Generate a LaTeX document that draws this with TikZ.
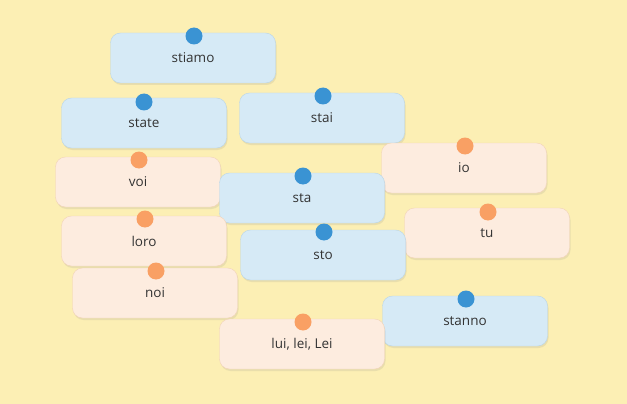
\documentclass[tikz,border=0pt]{standalone}
\usepackage{fontspec}
\setmainfont{Open Sans}
\usetikzlibrary{shadows}
\definecolor{bg}{HTML}{FCEFB4}
\definecolor{bfill}{HTML}{D6EAF6}
\definecolor{bdraw}{HTML}{B9D5E8}
\definecolor{ofill}{HTML}{FDECDF}
\definecolor{odraw}{HTML}{F2D3B8}
\definecolor{bdot}{HTML}{3A93D3}
\definecolor{odot}{HTML}{F9A064}
\definecolor{txt}{HTML}{333333}
\tikzset{
 card/.style={rounded corners=10pt,minimum width=165pt,minimum height=50pt,inner sep=0pt,text=txt,font=\fontsize{13.5pt}{15pt}\selectfont,drop shadow={opacity=0.15,shadow xshift=1pt,shadow yshift=-2pt}},
 blue/.style={card,fill=bfill,draw=bdraw},
 orange/.style={card,fill=ofill,draw=odraw},
 bd/.style={circle,fill=bdot,inner sep=0pt,minimum size=17pt},
 od/.style={circle,fill=odot,inner sep=0pt,minimum size=17pt},
}
\begin{document}
\begin{tikzpicture}[x=1pt,y=-1pt]
\fill[bg] (0,0) rectangle (627,404);
\useasboundingbox (0,0) rectangle (627,404);
\node[blue] (stiamo) at (193,58) {stiamo};
\node[blue] (state) at (144,123) {state};
\node[blue] (stai) at (322,118) {stai};
\node[orange] (io) at (464,168) {io};
\node[orange] (voi) at (138,182) {voi};
\node[blue] (sta) at (302,198) {sta};
\node[orange] (tu) at (487,233) {tu};
\node[orange] (loro) at (144,241) {loro};
\node[blue] (sto) at (323,255) {sto};
\node[orange] (noi) at (155,293) {noi};
\node[blue] (stanno) at (465,321) {stanno};
\node[orange] (lui) at (302,344) {lui, lei, Lei};
\node[bd] (d1) at (194,36) {};
\node[bd] (d2) at (144,102) {};
\node[bd] (d3) at (323,96) {};
\node[od] (d4) at (465,146) {};
\node[od] (d5) at (139,160) {};
\node[bd] (d6) at (303,176) {};
\node[od] (d7) at (488,212) {};
\node[od] (d8) at (145,219) {};
\node[bd] (d9) at (324,232) {};
\node[od] (d10) at (156,271) {};
\node[bd] (d11) at (466,299) {};
\node[od] (d12) at (303,322) {};
\end{tikzpicture}
\end{document}
